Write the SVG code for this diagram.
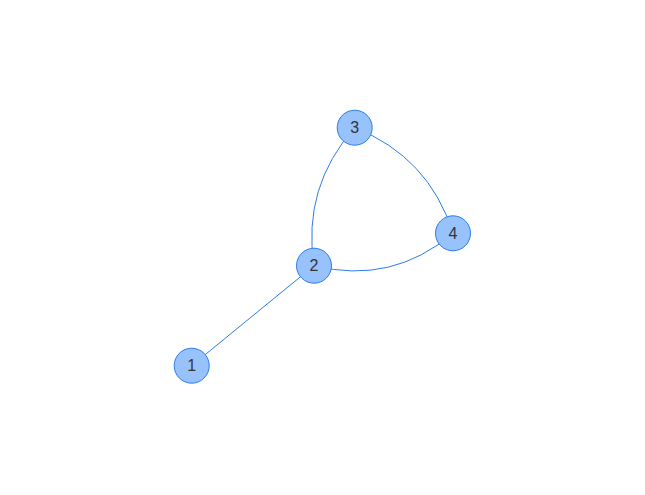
<svg xmlns="http://www.w3.org/2000/svg" width="645" height="495" viewBox="0 0 645 495">
<style>
.edge{fill:none;stroke:#2B7CE9;stroke-width:1}
.node circle{fill:#97C2FC;stroke:#2B7CE9;stroke-width:1}
.node text{font-family:"Liberation Sans",Arial,sans-serif;font-size:16px;fill:#343434;text-anchor:middle;dominant-baseline:central}
</style>
<rect width="645" height="495" fill="#ffffff"/>
<g id="edges">
<path class="edge" d="M191.7,365.7 L314,265.7"/>
<path class="edge" d="M314,265.7 Q302,187 354.7,127.7"/>
<path class="edge" d="M354.7,127.7 Q429,157 453,233.3"/>
<path class="edge" d="M314,265.7 Q392,285 453,233.3"/>
</g>
<g id="node1" class="node"><circle cx="191.7" cy="365.7" r="17.5"/><text x="191.7" y="365.7">1</text></g>
<g id="node2" class="node"><circle cx="314" cy="265.7" r="17.5"/><text x="314" y="265.7">2</text></g>
<g id="node3" class="node"><circle cx="354.7" cy="127.7" r="17.5"/><text x="354.7" y="127.7">3</text></g>
<g id="node4" class="node"><circle cx="453" cy="233.3" r="17.5"/><text x="453" y="233.3">4</text></g>
</svg>
